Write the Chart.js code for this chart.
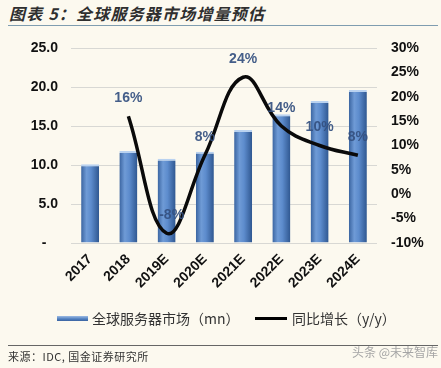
<!DOCTYPE html>
<html>
<head>
<meta charset="utf-8">
<script src="https://cdn.jsdelivr.net/npm/chart.js@4.4.1/dist/chart.umd.min.js"></script>
<style>
  html,body{margin:0;padding:0;background:#fcf9ef;}
  #wrap{position:relative;width:441px;height:368px;overflow:hidden;background:#fcf9ef;font-family:"Noto Sans CJK SC","Noto Sans",sans-serif;}
  #c{position:absolute;left:0;top:0;}
  .title{position:absolute;left:9px;top:1px;font-size:16px;font-weight:bold;font-style:italic;color:#2f2f2f;letter-spacing:1.2px;white-space:nowrap;}
  .rule1{position:absolute;left:8px;top:25px;width:430px;height:1px;background:#7f9db0;}
  .legend{position:absolute;top:308px;left:0;width:441px;height:20px;font-size:14px;color:#333;white-space:nowrap;}
  .sw1{position:absolute;left:57px;top:8px;width:31px;height:5px;background:linear-gradient(#9dbbe3,#4f7fbf 60%,#3a62a0);}
  .t1{position:absolute;left:92px;top:0;}
  .sw2{position:absolute;left:255px;top:9px;width:32px;height:3px;background:#000;}
  .t2{position:absolute;left:292px;top:0;}
  .rule2{position:absolute;left:8px;top:345px;width:430px;height:1px;background:#666;}
  .src{position:absolute;left:8px;top:348px;font-size:11px;color:#333;white-space:nowrap;letter-spacing:0.5px;}
  .wm{position:absolute;left:352px;top:343px;font-size:12px;color:#a5a5a5;white-space:nowrap;}
</style>
</head>
<body>
<div id="wrap">
  <div class="title">图表 5：全球服务器市场增量预估</div>
  <div class="rule1"></div>
  <canvas id="c" width="441" height="368"></canvas>
  <div class="legend">
    <div class="sw1"></div><div class="t1">全球服务器市场（mn）</div>
    <div class="sw2"></div><div class="t2">同比增长（y/y）</div>
  </div>
  <div class="rule2"></div>
  <div class="src">来源：IDC, 国金证券研究所</div>
  <div class="wm">头条 @未来智库</div>
</div>
<script>
const categories = ['2017','2018','2019E','2020E','2021E','2022E','2023E','2024E'];
const marketSize = [10.1, 11.8, 10.8, 11.7, 14.5, 16.5, 18.2, 19.6];
const yoyGrowth = [null, 16, -8, 8, 24, 14, 10, 8];
const leftTicks = [0, 5, 10, 15, 20, 25];
const rightTicks = [-10, -5, 0, 5, 10, 15, 20, 25, 30];

const BAR_FRAC = 0.47;

function barGradient(ctx){
  const chart = ctx.chart;
  const ca = chart.chartArea;
  const xs = chart.scales.x;
  if(!ca || !xs || ctx.dataIndex === undefined) return '#4f81bd';
  const cx = xs.getPixelForValue(ctx.dataIndex);
  const w = (ca.right - ca.left) / categories.length * BAR_FRAC;
  const g = chart.ctx.createLinearGradient(cx - w/2, 0, cx + w/2, 0);
  g.addColorStop(0, '#3a64a0');
  g.addColorStop(0.3, '#6f9bd6');
  g.addColorStop(0.55, '#5d8ccd');
  g.addColorStop(1, '#2f5790');
  return g;
}

const labelPlugin = {
  id: 'yoyLabels',
  afterDatasetsDraw(chart){
    const meta = chart.getDatasetMeta(1);
    const c = chart.ctx;
    c.save();
    c.font = 'bold 14px "Liberation Sans", Arial, sans-serif';
    c.fillStyle = 'rgba(52,80,128,0.92)';
    c.textAlign = 'center';
    c.textBaseline = 'middle';
    meta.data.forEach((pt, i) => {
      const v = yoyGrowth[i];
      if (v === null || v === undefined) return;
      const dx = v < 0 ? 5 : 0;
      c.fillText(Math.round(v) + '%', pt.x + dx, pt.y - 18);
    });
    c.restore();
  }
};

const tickFont = {family: '"Liberation Sans", Arial, sans-serif', size: 14, weight: 'bold'};

new Chart(document.getElementById('c'), {
  data: {
    labels: categories,
    datasets: [
      {
        type: 'bar',
        label: '全球服务器市场（mn）',
        data: marketSize,
        yAxisID: 'y',
        backgroundColor: barGradient,
        borderColor: '#b9d2f0',
        borderWidth: {top: 2, left: 0, right: 0, bottom: 0},
        borderSkipped: 'bottom',
        barPercentage: BAR_FRAC,
        categoryPercentage: 1.0,
        order: 2
      },
      {
        type: 'line',
        label: '同比增长（y/y）',
        data: yoyGrowth,
        yAxisID: 'y1',
        borderColor: '#0a0a0a',
        borderWidth: 3.5,
        pointRadius: 0,
        tension: 0.42,
        fill: false,
        spanGaps: false,
        order: 1
      }
    ]
  },
  options: {
    responsive: false,
    animation: false,
    devicePixelRatio: 1,
    layout: {padding: {top: 48, left: 0, right: 0, bottom: 0}},
    plugins: {legend: {display: false}, tooltip: {enabled: false}, title: {display: false}},
    scales: {
      x: {
        grid: {display: false, drawTicks: false},
        border: {display: false},
        ticks: {font: {...tickFont, size: 14}, color: '#111', minRotation: 45, maxRotation: 45, padding: 8, autoSkip: false},
        afterFit: s => { s.height = 125; }
      },
      y: {
        position: 'left',
        min: 0, max: 25,
        afterBuildTicks: s => { s.ticks = leftTicks.map(v => ({value: v})); },
        grid: {color: '#d8d8d4', lineWidth: 1, drawTicks: false},
        border: {display: false},
        ticks: {font: tickFont, color: '#111', padding: 13,
          callback: v => v === 0 ? '-   ' : Number(v).toFixed(1)},
        afterFit: s => { s.width = 71; }
      },
      y1: {
        position: 'right',
        min: -10, max: 30,
        afterBuildTicks: s => { s.ticks = rightTicks.map(v => ({value: v})); },
        grid: {display: false, drawTicks: false},
        border: {display: false},
        ticks: {font: tickFont, color: '#111', padding: 14, callback: v => v + '%'},
        afterFit: s => { s.width = 64; }
      }
    }
  },
  plugins: [labelPlugin]
});
</script>
</body>
</html>
